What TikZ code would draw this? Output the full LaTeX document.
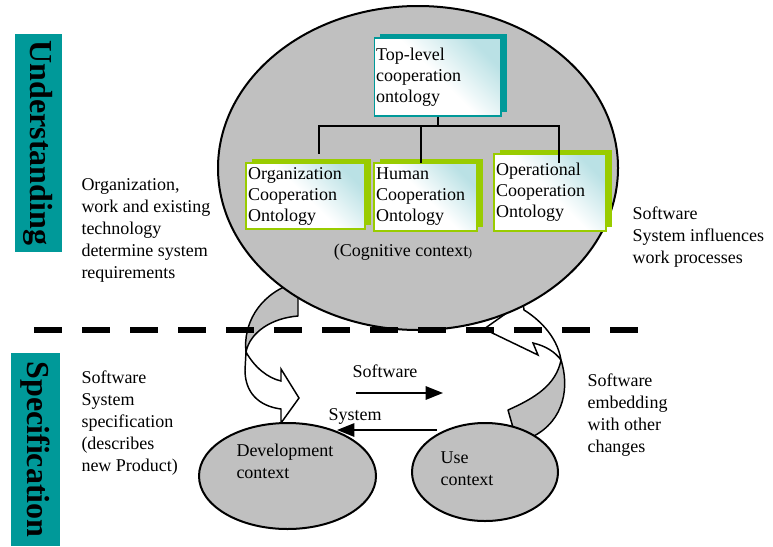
\documentclass[tikz,border=0pt]{standalone}
\usepackage{fontspec}
\setmainfont{Liberation Serif}
\usetikzlibrary{shapes.geometric,shadows,arrows.meta,calc}

\definecolor{ctxgray}{RGB}{192,192,192}
\definecolor{barteal}{RGB}{0,153,153}
\definecolor{ontogreen}{RGB}{153,204,0}
\definecolor{ontocyan}{RGB}{186,225,229}

\newcommand\boxfont{\fontsize{13.5}{15.75}\selectfont}
\newcommand\notefont{\fontsize{13.5}{16.5}\selectfont}
\newcommand\barfont{\fontsize{24}{28}\selectfont\bfseries}

\tikzset{every picture/.style={line width=0.75pt}}
\tikzset{
  ontobox/.style={draw=#1, line width=1.6pt, top color=ontocyan, bottom color=white, middle color=white, shading angle=-45,
    inner xsep=1.5pt, inner ysep=0pt, align=left, font=\boxfont,
    general shadow={fill=#1, shadow xshift=4.5pt, shadow yshift=3pt}},
  ctxellipse/.style={ellipse, draw, fill=ctxgray, line width=1.5pt, inner sep=0pt},
  bandback/.style={draw, fill=ctxgray, line width=1.1pt, line join=round},
  bandfront/.style={draw, fill=white, line width=1.1pt},
  sidebar/.style={fill=barteal, rotate=-90, inner sep=0pt, font=\barfont},
  note/.style={align=left, inner sep=0pt, font=\notefont},
  treeline/.style={line width=1.5pt},
  flowarrow/.style={line width=1.5pt, -{Triangle[length=13pt,width=10pt]}},
  sepline/.style={line width=4.5pt, dash pattern={on 21pt off 15pt}}
}

\begin{document}
\begin{tikzpicture}[x=0.75pt,y=0.75pt,yscale=-1,xscale=1]
\useasboundingbox (0,0) rectangle (773,546);

%Curved Arrow: left, back side
\draw [bandback] (298,284) -- (298,316) .. controls (272,318) and (250,332) .. (246,352) .. controls (243,325) and (258,296) .. (291,284) -- cycle;
%Curved Arrow: left, front side
\draw [bandfront] (246,352) .. controls (255,368) and (268,378) .. (281,381) -- (281,369) -- (299,398) -- (281,423) -- (281,409) .. controls (258,406) and (245,392) .. (245,370) -- cycle;
%Curved Arrow: right, back side
\draw [bandback] (508,410) .. controls (535,398) and (556,385) .. (561,360) .. controls (569,385) and (566,420) .. (532,437) -- (514,431) -- cycle;
%Curved Arrow: right, front side
\draw [bandfront] (561,360) .. controls (557,335) and (537,318) .. (524,310) -- (523,303) -- (518,305) -- (484,329) -- (538,355) -- (533,343) .. controls (546,346) and (555,352) .. (561,360) -- cycle;

%Shape: Ellipse
\node [ctxellipse, minimum width=300pt, minimum height=243pt] (cogctx) at (418,168) {};
%Shape: Ellipse
\node [ctxellipse, minimum width=132.75pt, minimum height=79.5pt] (devctx) at (287.5,476) {};
%Shape: Ellipse
\node [ctxellipse, minimum width=109.5pt, minimum height=73.5pt] (usectx) at (485,472) {};

%Shape: Rectangle
\node [ontobox=barteal, line width=1pt, text width=92pt, minimum height=58.5pt] (toponto) at (437.5,77) {Top-level\\cooperation\\ontology};
%Shape: Rectangle
\node [ontobox=ontogreen, text width=86pt, minimum height=49.5pt] (orgonto) at (305.5,196) {Organization\\Cooperation\\Ontology};
%Shape: Rectangle
\node [ontobox=ontogreen, text width=74pt, minimum height=51pt] (humonto) at (425.5,197) {Human\\Cooperation\\Ontology};
%Shape: Rectangle
\node [ontobox=ontogreen, text width=81pt, minimum height=57.75pt] (operonto) at (550,192.5) {Operational\\Cooperation\\Ontology};

%Straight Lines
\draw [treeline] (toponto.south) -- ++(0,9) coordinate (fork);
\draw [treeline] ($(orgonto.north)+(13.5,-8)$) |- (fork) -| ($(operonto.north)+(9,10)$);
\draw [treeline] ($(humonto.north)+(-4.5,1)$) |- (fork);

% Text Node
\node [note] (coglbl) at (403,252) {(Cognitive context{\fontsize{9}{10}\selectfont)}};
% Text Node
\node [note] (devlbl) [anchor=north west] at (236,444) {Development\\context};
% Text Node
\node [note] (uselbl) [anchor=north west] at (440,451) {Use\\context};
% Text Node
\node [note] (orgreq) [anchor=north west] at (81,178) {Organization,\\work and existing\\technology\\determine system\\requirements};
% Text Node
\node [note] (swinfl) [anchor=north west] at (632,206) {Software\\System influences\\work processes};
% Text Node
\node [note] (swspec) [anchor=north west] at (81,370) {Software\\System\\specification\\(describes\\new Product)};
% Text Node
\node [note] (swembed) [anchor=north west] at (587,373) {Software\\embedding\\with other\\changes};
% Text Node
\node [note] (swlbl) [anchor=west] at (352,371) {Software};
% Text Node
\node [note] (syslbl) [anchor=west] at (328,416) {System};

%Shape: Rectangle
\node [sidebar, minimum width=163.5pt, minimum height=35.25pt] (understand) at (38.5,143) {Understanding};
%Shape: Rectangle
\node [sidebar, minimum width=144.75pt, minimum height=36.75pt] (specify) at (35.5,449.5) {Specification};

%Straight Lines
\coordinate (swfrom) at (356,393);
\coordinate (swto) at (443,393);
\draw [flowarrow] (swfrom) -- (swto);
\coordinate (sysfrom) at (437,430);
\coordinate (systo) at (337,430);
\draw [flowarrow] (sysfrom) -- (systo);

%Dashed Line
\coordinate (sepleft) at (34,330);
\coordinate (sepright) at (640,330);
\draw [sepline] (sepleft) -- (sepright);

\end{tikzpicture}
\end{document}
